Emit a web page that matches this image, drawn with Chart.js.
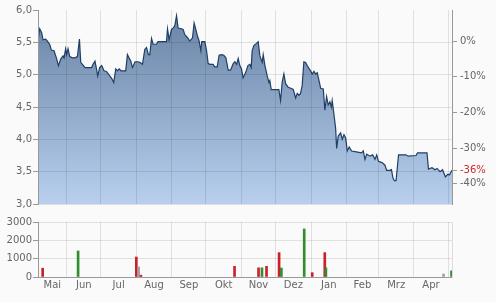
<!DOCTYPE html>
<html>
<head>
<meta charset="utf-8">
<script src="https://cdn.jsdelivr.net/npm/chart.js@4.4.0/dist/chart.umd.min.js"></script>
<style>
  html, body { margin: 0; padding: 0; background: #fafafa; }
  #wrap { position: relative; width: 496px; height: 302px; }
  #priceBox { position: absolute; left: 0; top: 0; width: 496px; height: 213px; }
  #volBox { position: absolute; left: 0; top: 213px; width: 496px; height: 89px; }
  #edge { position: absolute; left: 0; top: 0; width: 6px; height: 213px; background: #fafafa; z-index: 2; }
</style>
</head>
<body>
<div id="wrap">
  <div id="priceBox"><canvas id="priceChart"></canvas></div>
  <div id="volBox"><canvas id="volChart"></canvas></div>
  <div id="edge"></div>
</div>
<script>
// days are counted from 1 May
const priceDays = [
  5.9, 7.4, 9.1, 10.3, 12.6, 14.1, 16.1, 17.6, 19.9, 22, 23.8, 25.8, 27.8, 28.7, 30.1, 31, 32.2, 33.7, 36, 38.3,
  40.4, 42.2, 43.3, 44.8, 47.1, 50.6, 52.9, 54.1, 55.8, 57.1, 58.2, 59.9, 61.7, 63.7, 65.8, 67.6, 68.7, 70.5, 72.2, 74,
  75.5, 76.9, 78.6, 81.2, 82.7, 84.2, 85.6, 87.1, 88.6, 90.9, 93, 95, 97.4, 99.4, 100.9, 102.6, 103.8, 105.3, 106.7, 109.6,
  111, 118.4, 119.3, 120.7, 122.8, 124.2, 125.7, 127.2, 128.6, 131.5, 133, 134.4, 135.9, 137.3, 138.8, 141.2, 142.6, 144.1, 145.2, 147,
  148.5, 149.3, 152, 153.5, 154.9, 157, 159.2, 160.7, 162.8, 164.5, 166.6, 168.6, 170.4, 171.5, 172.4, 174.5, 176.8, 178.3, 179.8, 181.2,
  182.6, 184.1, 185.5, 187.9, 189.7, 191.4, 192.6, 193.4, 194.9, 196.9, 198.7, 200.2, 202.2, 203.1, 204.6, 206.6, 208.1, 208.9, 210.1, 212.4,
  216.8, 218.3, 219.7, 221.2, 222.7, 224.7, 227.1, 229.4, 231.5, 232.9, 234.4, 235.8, 237.2, 238.7, 240.2, 241.6, 243.4, 244.6, 246, 247.5,
  249, 250.4, 251.9, 253.4, 255.7, 257.1, 258.6, 260, 261.5, 262.7, 263.5, 265, 266.5, 267.4, 268.8, 270.9, 272.3, 273.8, 275.3, 276.7,
  278.4, 280.5, 283.4, 289.3, 290.7, 292.2, 293.7, 296.6, 298.9, 301, 302.5, 304, 307.1, 309.7, 311.2, 314.1, 315.4, 316.7, 318, 319.4,
  321.6, 324.2, 328.1, 329.9, 336.9, 338.2, 346.5, 347.8, 350.9, 353.5, 355.3, 357.9, 360.1, 362.6, 364.7, 366.1, 368.4
];
const prices = [
  5.52, 5.71, 5.65, 5.54, 5.55, 5.52, 5.47, 5.38, 5.37, 5.26, 5.14, 5.24, 5.29, 5.26, 5.40, 5.31, 5.40, 5.28, 5.26, 5.26,
  5.28, 5.55, 5.19, 5.16, 5.11, 5.11, 5.11, 5.16, 5.21, 5.09, 4.98, 5.11, 5.14, 5.06, 5.05, 5.01, 4.98, 4.94, 4.88, 5.09,
  5.06, 5.09, 5.06, 5.06, 5.06, 5.31, 5.26, 5.21, 5.11, 5.20, 5.20, 5.19, 5.16, 5.39, 5.42, 5.31, 5.31, 5.56, 5.47, 5.47,
  5.51, 5.51, 5.71, 5.54, 5.70, 5.72, 5.76, 5.91, 5.72, 5.71, 5.70, 5.62, 5.59, 5.56, 5.52, 5.57, 5.80, 5.70, 5.62, 5.52,
  5.37, 5.51, 5.51, 5.37, 5.17, 5.16, 5.16, 5.12, 5.12, 5.30, 5.31, 5.30, 5.26, 5.16, 5.07, 5.07, 5.17, 5.20, 5.16, 5.25,
  5.14, 5.09, 4.95, 5.04, 5.14, 5.16, 5.11, 5.37, 5.45, 5.48, 5.51, 5.29, 5.19, 5.31, 5.14, 4.98, 4.88, 4.91, 4.77, 4.77,
  4.77, 4.60, 4.88, 5.01, 4.86, 4.81, 4.79, 4.77, 4.64, 4.71, 4.68, 4.71, 4.83, 5.20, 5.19, 5.14, 5.09, 5.06, 5.01, 5.05,
  5.01, 5.03, 4.91, 4.79, 4.78, 4.45, 4.66, 4.53, 4.58, 4.50, 4.60, 4.39, 4.17, 3.86, 4.05, 4.10, 4.00, 4.07, 4.02, 3.82,
  3.88, 3.82, 3.81, 3.79, 3.82, 3.69, 3.77, 3.74, 3.76, 3.69, 3.76, 3.66, 3.64, 3.60, 3.52, 3.52, 3.53, 3.40, 3.36, 3.36,
  3.76, 3.76, 3.76, 3.74, 3.75, 3.79, 3.79, 3.54, 3.56, 3.53, 3.55, 3.50, 3.53, 3.42, 3.46, 3.45, 3.52
];

const volumeDays = [10, 41, 92, 94, 96, 178, 199, 202, 206, 217, 219, 239, 246, 257, 258, 361, 368];
const volumes = [480, 1420, 1090, 550, 100, 580, 500, 500, 580, 1330, 490, 2620, 235, 1330, 500, 160, 330];
const volumeDir = ["down", "up", "down", "flat", "down", "down", "down", "up", "down", "down", "up", "up", "down", "down", "up", "flat", "up"];

const monthStarts = [0, 31, 61, 92, 123, 153, 184, 214, 245, 276, 304, 335, 365];
const monthLabels = ["Mai", "Jun", "Jul", "Aug", "Sep", "Okt", "Nov", "Dez", "Jan", "Feb", "Mrz", "Apr"];
const priceTicks = [3, 3.5, 4, 4.5, 5, 5.5, 6];
const pctTicks = [0, -10, -20, -30, -40];
const volumeTicks = [0, 1000, 2000, 3000];

const DIR_COLORS = { up: "#2f8f2f", down: "#c8212b", flat: "#a0a0a0" };
const FONT = { family: "'DejaVu Sans', Verdana, sans-serif", size: 10 };
const TEXT = "#666";
const GRID = "rgba(0,0,0,0.1)";
const NONE = "rgba(0,0,0,0)";
const AXIS = "#999";

const xMin = priceDays[0];
const xMax = priceDays[priceDays.length - 1];
const base = prices[0];
const change = (prices[prices.length - 1] / base - 1) * 100;
const pctAll = pctTicks.concat([change]).sort((a, b) => b - a);

function monthTicks(scale, withLabels) {
  const ticks = [];
  for (let i = 0; i < monthStarts.length; i++) {
    const m = monthStarts[i];
    if (m > xMin && m < xMax) ticks.push({ value: m });
    if (withLabels && i < monthLabels.length) {
      const a = Math.max(m, xMin), b = Math.min(monthStarts[i + 1], xMax);
      if (b > a) ticks.push({ value: (a + b) / 2, name: monthLabels[i], mid: true });
    }
  }
  ticks.sort((p, q) => p.value - q.value);
  scale.ticks = ticks;
}

function fixed(list) {
  return scale => { scale.ticks = list.map(v => ({ value: v })); };
}

Chart.defaults.font = FONT;
Chart.defaults.color = TEXT;

function priceFill(ctx) {
  const area = ctx.chart.chartArea;
  if (!area) return "#9fb4cf";
  const g = ctx.chart.ctx.createLinearGradient(0, area.top, 0, area.bottom);
  g.addColorStop(0, "#6882a5");
  g.addColorStop(1, "#b8d0ee");
  return g;
}

new Chart(document.getElementById("priceChart"), {
  type: "line",
  data: {
    datasets: [{
      data: priceDays.map((d, i) => ({ x: d, y: prices[i] })),
      borderColor: "#203f66",
      borderWidth: 1.2,
      backgroundColor: priceFill,
      fill: "start",
      pointRadius: 0,
      tension: 0,
    }],
  },
  options: {
    responsive: true,
    maintainAspectRatio: false,
    animation: false,
    layout: { padding: { top: 10, bottom: 6, left: 0, right: 0 } },
    plugins: { legend: { display: false }, tooltip: { enabled: false } },
    scales: {
      x: {
        type: "linear",
        min: xMin,
        max: xMax,
        afterBuildTicks: s => monthTicks(s, false),
        afterFit: s => { s.height = 0; },
        ticks: { display: false },
        grid: { color: GRID, drawTicks: false, z: 1 },
        border: { display: false },
      },
      y: {
        position: "left",
        min: 3,
        max: 6,
        afterBuildTicks: fixed(priceTicks),
        afterFit: s => { s.width = 38; },
        ticks: {
          padding: 1,
          autoSkip: false,
          callback: v => v.toFixed(1).replace(".", ","),
        },
        grid: {
          color: priceTicks.map(v => (v === 6 ? NONE : GRID)),
          tickColor: AXIS,
          tickLength: 5,
          z: 1,
        },
        border: { color: AXIS, z: 1 },
      },
      y2: {
        position: "right",
        min: (3 / base - 1) * 100,
        max: (6 / base - 1) * 100,
        afterBuildTicks: fixed(pctAll),
        afterFit: s => { s.width = 44; },
        ticks: {
          padding: 3,
          autoSkip: false,
          color: pctAll.map(v => (v === change ? "#cc2a2a" : TEXT)),
          callback: v => Math.round(v) + "%",
        },
        grid: { drawOnChartArea: false, tickColor: AXIS, tickLength: 5 },
        border: { color: AXIS, z: 1 },
      },
    },
  },
});

new Chart(document.getElementById("volChart"), {
  type: "bar",
  data: {
    datasets: [{
      data: volumeDays.map((d, i) => ({ x: d, y: volumes[i] })),
      backgroundColor: volumeDir.map(d => DIR_COLORS[d]),
      barThickness: 2,
    }],
  },
  options: {
    responsive: true,
    maintainAspectRatio: false,
    animation: false,
    layout: { padding: { top: 9, bottom: 0, left: 0, right: 44 } },
    plugins: { legend: { display: false }, tooltip: { enabled: false } },
    scales: {
      x: {
        type: "linear",
        min: xMin,
        max: xMax,
        offset: false,
        afterBuildTicks: s => monthTicks(s, true),
        afterFit: s => { s.height = 25; },
        ticks: {
          padding: 2,
          autoSkip: false,
          maxRotation: 0,
          callback: (v, i, ticks) => (ticks[i].mid ? ticks[i].name : ""),
        },
        grid: {
          offset: false,
          drawTicks: false,
          color: c => (c.tick && c.tick.mid ? NONE : GRID),
        },
        border: { color: AXIS },
      },
      y: {
        position: "left",
        min: 0,
        max: 3000,
        afterBuildTicks: fixed(volumeTicks),
        afterFit: s => { s.width = 38; },
        ticks: { padding: 1, autoSkip: false, callback: v => String(v) },
        grid: { color: GRID, tickColor: AXIS, tickLength: 5 },
        border: { color: AXIS },
      },
      yr: {
        position: "right",
        afterFit: s => { s.width = 0; },
        ticks: { display: false },
        grid: { drawOnChartArea: false, drawTicks: false },
        border: { color: "#ddd" },
      },
    },
  },
});
</script>
</body>
</html>
